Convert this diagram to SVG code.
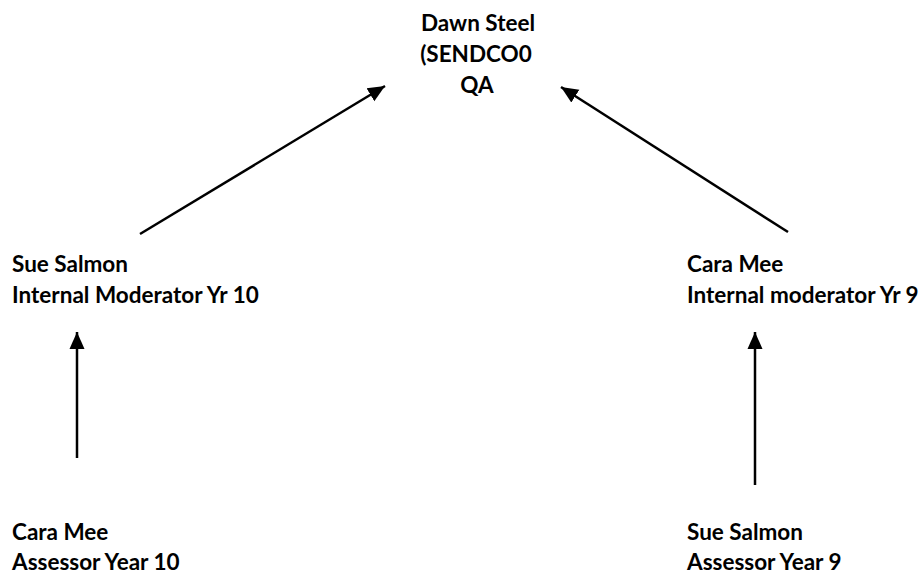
<svg xmlns="http://www.w3.org/2000/svg" width="922" height="576" viewBox="0 0 922 576">
<style>
.t{font-family:Lato,"Liberation Sans",sans-serif;font-weight:bold;font-size:22.5px;fill:#000}
.c{text-anchor:middle}
.ln{stroke:#000;stroke-width:2.5;fill:none}
</style>
<defs>
<marker id="ah" markerUnits="userSpaceOnUse" markerWidth="20" markerHeight="20" viewBox="0 0 20 20" refX="17" refY="10" orient="auto">
<path d="M0,2.5 L17,10 L0,17.5 Z" fill="#000"/>
</marker>
</defs>
<rect width="922" height="576" fill="#fff"/>
<g id="dawn">
<text class="t c" x="478" y="31">Dawn Steel</text>
<text class="t c" x="476" y="62">(SENDCO0</text>
<text class="t c" x="477" y="93">QA</text>
</g>
<g id="sue-mod">
<text class="t" x="12" y="272">Sue Salmon</text>
<text class="t" x="12" y="303">Internal Moderator Yr 10</text>
</g>
<g id="cara-mod">
<text class="t" x="687" y="272">Cara Mee</text>
<text class="t" x="687" y="303">Internal moderator Yr 9</text>
</g>
<g id="cara-ass">
<text class="t" x="12" y="540">Cara Mee</text>
<text class="t" x="12" y="570">Assessor Year 10</text>
</g>
<g id="sue-ass">
<text class="t" x="687" y="540">Sue Salmon</text>
<text class="t" x="687" y="570">Assessor Year 9</text>
</g>
<g id="connectors">
<line class="ln" x1="140" y1="234" x2="385" y2="86" marker-end="url(#ah)"/>
<line class="ln" x1="788" y1="232" x2="561" y2="87" marker-end="url(#ah)"/>
<line class="ln" x1="77" y1="458" x2="77" y2="332" marker-end="url(#ah)"/>
<line class="ln" x1="755" y1="485" x2="755" y2="332" marker-end="url(#ah)"/>
</g>
</svg>
